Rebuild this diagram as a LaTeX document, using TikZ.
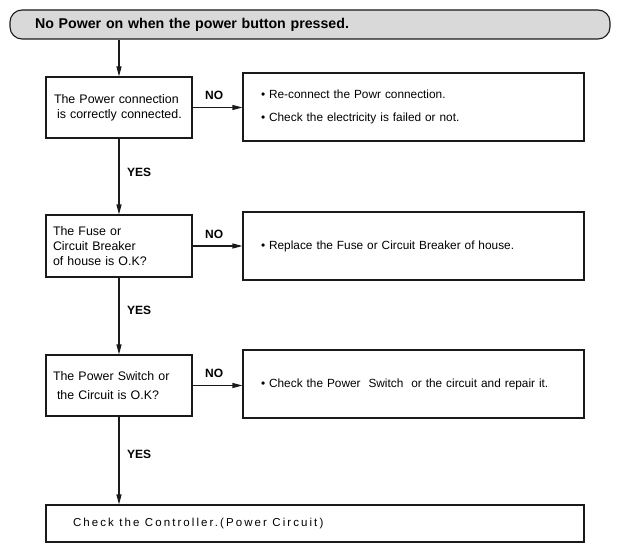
\documentclass[tikz,border=0pt]{standalone}
\usepackage{fontspec}
\setmainfont{Liberation Sans}
\usetikzlibrary{arrows.meta}
\definecolor{hdgray}{HTML}{D9D9D9}
\definecolor{linec}{HTML}{1A1A1A}
\begin{document}
\begin{tikzpicture}[x=1pt,y=-1pt,
  every node/.style={font=\fontsize{12.4}{14.9}\selectfont},
  qbox/.style={draw=linec,line width=1.1pt,minimum width=146pt,align=left,
    text width=132pt,inner xsep=7pt,inner ysep=0pt},
  abox/.style={draw=linec,line width=1.1pt,minimum width=341pt,minimum height=68pt,
    align=left,text width=305pt,inner xsep=18pt,inner ysep=0pt,
    font=\fontsize{11.85}{14.2}\selectfont},
  lbl/.style={font=\fontsize{12}{14.4}\selectfont\bfseries,inner sep=0pt,anchor=west},
  flow/.style={draw=linec,line width=1.1pt,-{Triangle[length=10pt,width=5pt]}}]
\useasboundingbox (0,0) rectangle (621,551);
% header
\node[draw=linec,line width=1.1pt,fill=hdgray,rounded corners=12pt,
  minimum width=600pt,minimum height=29pt,text width=550pt,inner xsep=25pt,
  align=left,font=\fontsize{14.2}{17}\selectfont\bfseries]
  (hd) at (310,24.5) {No Power on when the power button pressed.};
% question boxes
\node[qbox,minimum height=61pt] (b1) at (119,107.5)
  {\hspace*{1pt}The Power connection\\\hspace*{4pt}is correctly connected.};
\node[qbox,minimum height=62pt] (b2) at (119,246)
  {The Fuse or\\Circuit Breaker\\of house is O.K?};
\node[qbox,minimum height=61pt] (b3) at (119,385.5)
  {The Power Switch or\\[4pt]\hspace*{4pt}the Circuit is O.K?};
% answer boxes
\node[abox] (r1) at (413.5,107)
  {\textbullet\ Re-connect the Powr connection.\\[9.6pt]\textbullet\ Check the electricity is failed or not.};
\node[abox] (r2) at (413.5,246)
  {\textbullet\ Replace the Fuse or Circuit Breaker of house.};
\node[abox] (r3) at (413.5,384)
  {\textbullet\ Check the Power\ \ Switch\ \ or the circuit and repair it.};
% final box
\node[draw=linec,line width=1.1pt,minimum width=538pt,minimum height=37pt,
  text width=484pt,inner xsep=27pt,align=left,
  font=\fontsize{11.5}{13.5}\selectfont]
  (fin) at (315,523.5) {\addfontfeature{LetterSpace=18}\spaceskip=5.5pt\relax Check the Controller.(Power Circuit)};
% connectors
\draw[flow] (hd.south -| b1.north) -- (b1.north);
\draw[flow] (b1.south) -- (b2.north);
\draw[flow] (b2.south) -- (b3.north);
\draw[flow] (b3.south) -- (b3.south |- fin.north);
\draw[flow] (b1.east) -- (r1.west |- b1.east);
\draw[flow] (b2.east) -- (r2.west |- b2.east);
\draw[flow] (b3.east) -- (r3.west |- b3.east);
% labels
\node[lbl] (yes1) at (127,172) {YES};
\node[lbl] (yes2) at (127,310) {YES};
\node[lbl] (yes3) at (127,454) {YES};
\node[lbl] (no1) at (205,95) {NO};
\node[lbl] (no2) at (205,234) {NO};
\node[lbl] (no3) at (205,373) {NO};
\end{tikzpicture}
\end{document}
